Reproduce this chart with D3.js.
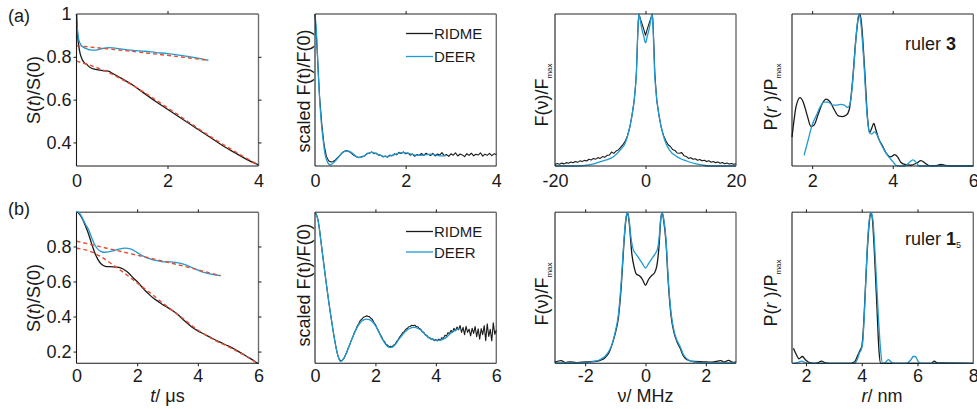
<!DOCTYPE html>
<html><head><meta charset="utf-8">
<script src="https://cdn.jsdelivr.net/npm/d3@7/dist/d3.min.js"></script>
<style>
body{margin:0;background:#fff;}
svg{display:block;}
text{font-family:"Liberation Sans",Arial,Helvetica,sans-serif;fill:#1a1a1a;}
</style></head>
<body><svg id="c" width="977" height="409"></svg>
<script>
// ---------- DATA ----------
// (a) ruler 3 — S(t)/S(0)
const a1RidmeT = [0,0.01,0.025,0.05,0.08,0.12,0.16,0.22,0.3,0.37,0.5,0.6,0.7,0.8,0.9,1.0,1.25,1.5,1.75,2.0,2.25,2.5,2.75,3.0,3.25,3.5,3.75,4.0];
const a1Ridme  = [1.0,0.96,0.9,0.85,0.815,0.79,0.775,0.765,0.75,0.744,0.738,0.735,0.733,0.722,0.71,0.698,0.666,0.628,0.59,0.555,0.52,0.485,0.45,0.415,0.38,0.35,0.32,0.295];
const a1RidmeFitT = [0,0.5,1,1.5,2,2.5,3,3.5,4];
const a1RidmeFit  = [0.78,0.745,0.695,0.632,0.562,0.49,0.42,0.355,0.295];
const a1DeerT = [0,0.02,0.05,0.1,0.15,0.22,0.3,0.4,0.5,0.6,0.7,0.8,1.0,1.25,1.5,1.75,2.0,2.25,2.5,2.75,2.9];
const a1Deer  = [1.0,0.93,0.88,0.855,0.845,0.838,0.832,0.831,0.835,0.84,0.843,0.842,0.836,0.83,0.826,0.82,0.815,0.808,0.8,0.79,0.784];
const a1DeerFitT = [0,1.45,2.9];
const a1DeerFit  = [0.852,0.82,0.784];

// (a) scaled F(t)/F(0); RIDME sampled every 0.05 µs from 0
const a2RidmeStep = 0.05;
const a2Ridme = [1.000,0.750,0.460,0.275,0.140,0.065,0.035,0.026,0.030,0.040,
 0.055,0.070,0.088,0.097,0.101,0.095,0.085,0.072,0.062,0.058,
 0.058,0.064,0.066,0.083,0.084,0.093,0.081,0.085,0.071,0.072,
 0.060,0.066,0.058,0.072,0.066,0.080,0.074,0.090,0.082,0.093,
 0.080,0.086,0.071,0.079,0.064,0.075,0.069,0.082,0.070,0.084,
 0.075,0.069,0.083,0.066,0.079,0.072,0.088,0.068,0.076,0.063,
 0.080,0.071,0.086,0.066,0.079,0.073,0.062,0.081,0.070,0.084,
 0.067,0.077,0.072,0.087,0.065,0.078,0.070,0.083,0.068,0.080,
 0.075];
const a2DeerT = [0,0.04,0.07,0.11,0.15,0.18,0.22,0.27,0.33,0.4,0.5,0.6,0.7,0.8,0.9,0.96,1.05,1.15,1.25,1.4,1.55,1.7,1.85,1.95,2.1,2.25,2.4,2.55,2.7,2.8,2.9];
const a2Deer  = [1.0,0.84,0.62,0.40,0.25,0.17,0.08,0.03,0.008,0.02,0.05,0.085,0.099,0.09,0.065,0.055,0.06,0.08,0.09,0.075,0.062,0.07,0.084,0.088,0.08,0.07,0.072,0.078,0.07,0.066,0.07];

// (a) F(nu)/Fmax
const a3RidmeTailL = [0.010,0.016,0.012,0.019,0.014,0.022,0.018,0.026,0.021,0.030,0.024,0.034,0.029,0.037,0.033,0.044,0.040,0.050,0.045,0.055,0.050,0.062,0.057,0.070,0.072,0.092,0.083,0.098,0.106,0.122,0.140,0.162,0.198,0.250]; // nu -20 .. -3.5, step 0.5
const a3RidmeCoreNu = [-3,-2.5,-2.2,-2,-1.8,-1.6,-1.45,-1.1,-0.7,-0.35,0,0.35,0.7,1.1,1.5,1.65,1.85,2.05,2.25,2.5,3,3.5];
const a3RidmeCore   = [0.33,0.43,0.53,0.62,0.8,0.95,1.0,0.965,0.93,0.895,0.86,0.895,0.93,0.965,1.0,0.95,0.8,0.62,0.53,0.43,0.33,0.25];
const a3RidmeTailR = [0.200,0.166,0.140,0.128,0.108,0.102,0.086,0.084,0.088,0.068,0.063,0.050,0.054,0.044,0.048,0.038,0.043,0.034,0.038,0.029,0.034,0.025,0.030,0.022,0.026,0.018,0.023,0.015,0.020,0.013,0.017,0.011,0.015]; // nu 4 .. 20, step 0.5
const a3DeerNu = [-20,-15,-13,-11,-9.5,-8.6,-7,-5.6,-4.5,-3.8,-3,-2.5,-2.2,-2,-1.8,-1.6,-1.44,-1.2,-0.8,-0.4,0,0.4,0.8,1.2,1.44,1.6,1.8,2,2.2,2.5,3,3.8,4.5,5.3,7,8.4,9.5,11,12.8,14,20];
const a3Deer   = [0,0,0.006,0.018,0.032,0.04,0.063,0.105,0.15,0.215,0.33,0.434,0.53,0.62,0.8,0.95,1.0,0.965,0.9,0.855,0.81,0.855,0.9,0.965,1.0,0.95,0.8,0.62,0.53,0.434,0.33,0.215,0.15,0.105,0.06,0.04,0.028,0.015,0.005,0,0];

// (a) P(r)/Pmax
const a4RidmeR = [1.5,1.55,1.6,1.7,1.78,1.88,1.97,2.05,2.15,2.25,2.35,2.45,2.55,2.65,2.75,2.85,2.92,3.0,3.08,3.15,3.18,3.22,3.3,3.38,3.43,3.48,3.53,3.58,3.65,3.75,3.85,3.95,4.05,4.12,4.2,4.3,4.45,4.6,4.7,4.8,4.9,5.05,5.2,5.3,5.5,6];
const a4Ridme  = [0.19,0.3,0.39,0.45,0.42,0.33,0.26,0.27,0.34,0.41,0.44,0.42,0.37,0.33,0.325,0.335,0.37,0.55,0.82,0.98,1.0,0.95,0.65,0.3,0.22,0.25,0.28,0.24,0.18,0.13,0.08,0.06,0.075,0.06,0.025,0.01,0.005,0.02,0.035,0.02,0.003,0.002,0.01,0.004,0,0];
const a4DeerR = [1.8,1.9,2.0,2.1,2.2,2.3,2.4,2.5,2.6,2.7,2.8,2.88,2.95,3.02,3.1,3.16,3.2,3.28,3.36,3.42,3.48,3.55,3.62,3.7,3.8,3.9,4.0,4.08,4.15,4.3,4.42,4.5,4.58,4.65,6];
const a4Deer  = [0.07,0.17,0.27,0.33,0.39,0.42,0.42,0.40,0.40,0.405,0.40,0.385,0.42,0.6,0.88,1.0,0.96,0.7,0.35,0.22,0.21,0.225,0.2,0.15,0.1,0.06,0.03,0.005,0,0,0.025,0.04,0.025,0,0];

// (b) ruler 1_5 — S(t)/S(0)
const b1RidmeT = [0,0.1,0.2,0.3,0.4,0.5,0.6,0.7,0.8,0.9,1.0,1.2,1.4,1.55,1.7,1.88,2.0,2.2,2.4,2.54,2.7,2.87,3.0,3.2,3.35,3.47,3.6,3.8,4.0,4.2,4.5,4.75,5.0,5.25,5.5,5.75,6.0];
const b1Ridme  = [1.0,0.985,0.955,0.915,0.87,0.815,0.765,0.728,0.703,0.69,0.685,0.684,0.68,0.67,0.652,0.619,0.6,0.56,0.525,0.504,0.485,0.465,0.452,0.43,0.41,0.39,0.37,0.34,0.318,0.3,0.273,0.252,0.232,0.21,0.185,0.158,0.13];
const b1RidmeFitT = [0,0.4,0.8,1.2,1.6,2.0,2.5,3.0,3.5,4.0,4.5,5.0,5.5,6.0];
const b1RidmeFit  = [0.79,0.775,0.742,0.695,0.645,0.592,0.525,0.455,0.39,0.323,0.27,0.228,0.182,0.13];
const b1DeerT = [0,0.1,0.2,0.3,0.4,0.5,0.6,0.7,0.8,0.9,1.0,1.2,1.4,1.6,1.8,2.0,2.2,2.4,2.6,2.8,3.0,3.2,3.4,3.6,3.8,4.0,4.2,4.4,4.6,4.75];
const b1Deer  = [1.0,0.99,0.96,0.925,0.895,0.85,0.81,0.785,0.772,0.767,0.768,0.775,0.785,0.79,0.785,0.765,0.745,0.73,0.72,0.714,0.712,0.71,0.705,0.695,0.68,0.665,0.652,0.643,0.637,0.633];
const b1DeerFitT = [0,1,2,3,4,4.75];
const b1DeerFit  = [0.83,0.79,0.75,0.71,0.667,0.633];

// (b) scaled F(t)/F(0); RIDME sampled every 0.05 µs from 0
const b2RidmeStep = 0.05;
const b2Ridme = [1.000,0.985,0.950,0.885,0.805,0.725,0.645,0.565,0.490,0.415,0.345,0.280,0.215,0.155,0.100,0.055,
 0.028,0.016,0.021,0.030,0.052,0.073,0.102,0.123,0.152,0.173,0.202,0.223,0.247,0.263,
 0.284,0.292,0.305,0.309,0.314,0.311,0.309,0.298,0.290,0.270,0.257,0.233,0.217,0.193,0.177,0.156,0.144,0.126,0.120,0.110,
 0.112,0.109,0.120,0.126,0.144,0.156,0.174,0.186,0.202,0.210,0.224,0.230,0.242,0.244,0.252,0.249,0.252,0.244,0.242,0.230,
 0.225,0.208,0.206,0.188,0.186,0.170,0.171,0.158,0.162,0.150,0.158,0.149,0.160,0.153,0.170,0.165,0.186,0.180,0.203,0.196,
 0.218,0.205,0.232,0.216,0.240,0.222,0.250,0.205,0.238,0.190,0.245,0.205,0.226,0.182,0.232,0.198,0.244,0.176,0.228,0.160,
 0.230,0.190,0.250,0.150,0.262,0.178,0.225,0.148,0.268,0.192,0.220];
const b2DeerT = [0,0.1,0.2,0.3,0.4,0.5,0.6,0.7,0.8,0.85,0.9,1.0,1.2,1.4,1.55,1.7,1.8,1.9,2.0,2.2,2.4,2.5,2.6,2.8,3.0,3.2,3.3,3.5,3.7,3.9,4.1,4.3,4.5,4.7,4.8];
const b2Deer  = [1.0,0.95,0.80,0.64,0.49,0.345,0.215,0.10,0.025,0.012,0.018,0.05,0.15,0.24,0.28,0.293,0.29,0.275,0.25,0.17,0.112,0.105,0.112,0.165,0.212,0.236,0.238,0.22,0.18,0.157,0.152,0.165,0.2,0.225,0.232];

// (b) F(nu)/Fmax
const b3RidmeNu = [-3,-2.8,-2.65,-2.5,-2.3,-2.1,-1.9,-1.7,-1.5,-1.35,-1.2,-1.1,-1.0,-0.9,-0.8,-0.72,-0.65,-0.6,-0.55,-0.45,-0.38,-0.3,-0.2,-0.1,0,0.1,0.2,0.3,0.38,0.45,0.5,0.55,0.6,0.68,0.75,0.85,0.95,1.05,1.15,1.25,1.4,1.6,1.9,2.2,2.5,2.6,2.75,2.9,3];
const b3Ridme   = [0.008,0.018,0.005,0.01,0.004,0.008,0.01,0.012,0.02,0.035,0.075,0.13,0.2,0.3,0.52,0.78,0.95,1.0,0.95,0.72,0.64,0.59,0.58,0.555,0.517,0.555,0.58,0.6,0.65,0.78,0.94,1.0,0.95,0.8,0.55,0.31,0.2,0.14,0.1,0.05,0.022,0.012,0.01,0.008,0.018,0.008,0.02,0.006,0.01];
const b3DeerNu = [-3,-2.5,-2,-1.7,-1.5,-1.35,-1.2,-1.1,-1.0,-0.9,-0.8,-0.72,-0.65,-0.6,-0.55,-0.48,-0.4,-0.3,-0.2,-0.1,0,0.1,0.2,0.3,0.4,0.46,0.5,0.55,0.6,0.68,0.75,0.85,0.95,1.05,1.15,1.25,1.4,1.6,2,3];
const b3Deer   = [0.003,0.003,0.005,0.012,0.025,0.045,0.085,0.13,0.21,0.32,0.55,0.8,0.96,1.0,0.96,0.83,0.75,0.72,0.69,0.66,0.63,0.66,0.69,0.72,0.76,0.85,0.95,1.0,0.96,0.82,0.57,0.33,0.21,0.15,0.11,0.06,0.025,0.01,0.004,0.003];

// (b) P(r)/Pmax
const b4RidmeR = [1.55,1.65,1.75,1.87,2.0,2.15,2.3,2.45,2.55,2.7,2.85,3.6,3.75,3.85,3.95,4.0,4.05,4.12,4.2,4.28,4.33,4.38,4.45,4.55,4.62,4.68,4.75,6.5,6.6,6.7,8];
const b4Ridme  = [0.1,0.06,0.03,0.045,0.02,0.003,0,0.005,0.015,0.003,0,0,0.01,0.05,0.09,0.11,0.2,0.45,0.75,0.95,1.0,0.96,0.75,0.35,0.08,0,0,0,0.015,0.002,0];
const b4DeerR = [1.55,1.7,1.85,2.0,2.1,3.75,3.85,3.92,3.98,4.03,4.1,4.18,4.27,4.33,4.4,4.5,4.6,4.68,4.75,4.85,4.95,5.05,5.15,5.6,5.75,5.85,5.92,6.0,6.1,8];
const b4Deer  = [0,0.005,0.015,0.003,0,0,0.03,0.07,0.09,0.13,0.35,0.7,0.95,1.0,0.95,0.65,0.3,0.08,0,0.005,0.025,0.01,0,0,0.02,0.045,0.045,0.02,0,0];

// tick values
const a1XTicks = [0,2,4],   a1YTicks = [0.4,0.6,0.8,1];
const a2XTicks = [0,2,4];
const a3XTicks = [-20,0,20];
const a4XTicks = [2,4,6];
const b1XTicks = [0,2,4,6], b1YTicks = [0.2,0.4,0.6,0.8];
const b2XTicks = [0,2,4,6];
const b3XTicks = [-2,0,2];
const b4XTicks = [2,4,6,8];

// ---------- DRAWING ----------
const svg = d3.select('#c');
const BLUE = '#1f9ad3', BLACK = '#1a1a1a', RED = '#ea4b2f', FRAME2 = '#6e6e6e';
const COLS = [[76.5,258.5],[315,496.3],[555,736],[792,973.3]];
const ROWS = [[14,166],[212.3,363.3]];
const TICKFS = 18;

function pairs(xs, ys){ return d3.zip(xs, ys); }

function panel(o){
  const [x0,x1] = COLS[o.c], [y0,y1] = ROWS[o.r];
  const x = d3.scaleLinear().domain(o.xd).range([x0,x1]);
  const y = d3.scaleLinear().domain(o.yd).range([y1,y0]);
  const g = svg.append('g');
  g.append('line').attr('x1',x0).attr('x2',x1).attr('y1',y0).attr('y2',y0).attr('stroke',FRAME2).attr('stroke-width',1.4);
  g.append('line').attr('x1',x1).attr('x2',x1).attr('y1',y0).attr('y2',y1).attr('stroke',FRAME2).attr('stroke-width',1.4);
  o.series.forEach(s=>{
    const line = d3.line().x(d=>x(d[0])).y(d=>y(d[1])).curve(s.curve || d3.curveMonotoneX);
    g.append('path').datum(s.data).attr('d',line).attr('fill','none')
      .attr('stroke',s.color).attr('stroke-width',s.w || 1.3)
      .attr('stroke-dasharray',s.dash || null).attr('stroke-linejoin','round');
  });
  g.append('line').attr('x1',x0).attr('x2',x0).attr('y1',y0).attr('y2',y1).attr('stroke',BLACK).attr('stroke-width',1.1);
  g.append('line').attr('x1',x0).attr('x2',x1).attr('y1',y1).attr('y2',y1).attr('stroke',BLACK).attr('stroke-width',1.1);
  const inner = o.xt.filter(v=>v>o.xd[0] && v<o.xd[1]);
  const bx = g.append('g').attr('transform',`translate(0,${y1})`)
    .call(d3.axisBottom(x).tickValues(o.xt).tickSize(3).tickPadding(o.r===0?5:3).tickFormat(d=>String(d)));
  bx.select('.domain').remove();
  bx.selectAll('.tick line').attr('stroke',BLACK).attr('opacity',(d)=>inner.includes(d)?1:0);
  bx.selectAll('text').attr('font-size',TICKFS).attr('font-family','"Liberation Sans",Arial,sans-serif').attr('fill',BLACK);
  const tx = g.append('g').attr('transform',`translate(0,${y0})`)
    .call(d3.axisTop(x).tickValues(inner).tickSize(3).tickFormat(''));
  tx.select('.domain').remove();
  tx.selectAll('.tick line').attr('stroke',BLACK);
  if (o.yt){
    const innerY = o.yt.filter(v=>v>o.yd[0] && v<o.yd[1]-1e-6);
    const ly = g.append('g').attr('transform',`translate(${x0},0)`)
      .call(d3.axisLeft(y).tickValues(o.yt).tickSize(3).tickPadding(2).tickFormat(d=>d===1?'1':d3.format('.1f')(d)));
    ly.select('.domain').remove();
    ly.selectAll('.tick line').attr('stroke',BLACK).attr('opacity',d=>innerY.includes(d)?1:0);
    ly.selectAll('text').attr('font-size',TICKFS).attr('font-family','"Liberation Sans",Arial,sans-serif').attr('fill',BLACK);
    const ry = g.append('g').attr('transform',`translate(${x1},0)`)
      .call(d3.axisRight(y).tickValues(innerY).tickSize(3).tickFormat(''));
    ry.select('.domain').remove();
    ry.selectAll('.tick line').attr('stroke',BLACK);
  }
  return {x,y};
}

const range = (n, step, start=0) => d3.range(n).map(i => +(start + i*step).toFixed(4));

// Row (a)
panel({c:0,r:0,xd:[0,4],yd:[0.29,1.0],xt:a1XTicks,yt:a1YTicks,series:[
  {data:pairs(a1RidmeT,a1Ridme),color:BLACK},
  {data:pairs(a1DeerT,a1Deer),color:BLUE},
  {data:pairs(a1RidmeFitT,a1RidmeFit),color:RED,dash:'4,3',w:1.4},
  {data:pairs(a1DeerFitT,a1DeerFit),color:RED,dash:'4,3',w:1.4}
]});
panel({c:1,r:0,xd:[0,4],yd:[0,1],xt:a2XTicks,series:[
  {data:pairs(range(a2Ridme.length,a2RidmeStep),a2Ridme),color:BLACK,curve:d3.curveLinear,w:1.1},
  {data:pairs(a2DeerT,a2Deer),color:BLUE}
]});
const a3RidmeNu = range(a3RidmeTailL.length,0.5,-20).concat(a3RidmeCoreNu, range(a3RidmeTailR.length,0.5,4));
const a3RidmeAll = a3RidmeTailL.concat(a3RidmeCore, a3RidmeTailR);
panel({c:2,r:0,xd:[-20,20],yd:[0,1],xt:a3XTicks,series:[
  {data:pairs(a3RidmeNu,a3RidmeAll),color:BLACK,curve:d3.curveLinear,w:1.1},
  {data:pairs(a3DeerNu,a3Deer),color:BLUE}
]});
panel({c:3,r:0,xd:[1.5,6],yd:[0,1],xt:a4XTicks,series:[
  {data:pairs(a4RidmeR,a4Ridme),color:BLACK},
  {data:pairs(a4DeerR,a4Deer),color:BLUE}
]});

// Row (b)
panel({c:0,r:1,xd:[0,6],yd:[0.133,0.995],xt:b1XTicks,yt:b1YTicks,series:[
  {data:pairs(b1RidmeT,b1Ridme),color:BLACK},
  {data:pairs(b1DeerT,b1Deer),color:BLUE},
  {data:pairs(b1RidmeFitT,b1RidmeFit),color:RED,dash:'4,3',w:1.4},
  {data:pairs(b1DeerFitT,b1DeerFit),color:RED,dash:'4,3',w:1.4}
]});
panel({c:1,r:1,xd:[0,6],yd:[0,1],xt:b2XTicks,series:[
  {data:pairs(range(b2Ridme.length,b2RidmeStep),b2Ridme),color:BLACK,curve:d3.curveLinear,w:1.1},
  {data:pairs(b2DeerT,b2Deer),color:BLUE}
]});
panel({c:2,r:1,xd:[-3,3],yd:[0,1],xt:b3XTicks,series:[
  {data:pairs(b3RidmeNu,b3Ridme),color:BLACK},
  {data:pairs(b3DeerNu,b3Deer),color:BLUE}
]});
panel({c:3,r:1,xd:[1.5,8],yd:[0,1],xt:b4XTicks,series:[
  {data:pairs(b4RidmeR,b4Ridme),color:BLACK},
  {data:pairs(b4DeerR,b4Deer),color:BLUE}
]});

// ---------- TEXT ----------
const LFS = 18;
function rotLabel(x, y, parts){
  const t = svg.append('text').attr('transform',`translate(${x},${y}) rotate(-90)`)
    .attr('text-anchor','middle').attr('font-size',LFS);
  parts.forEach(p=>{
    const s = t.append('tspan').text(p.t);
    if (p.i) s.attr('font-style','italic');
    if (p.sub) s.attr('font-size',8).attr('dy',4);
  });
}
[[90,0],[298,1]].forEach(([cy,r])=>{
  rotLabel(40, cy, [{t:'S('},{t:'t',i:1},{t:')/S(0)'}]);
  rotLabel(310, r?285:91, [{t:'scaled F(t)/F(0)'}]);
  rotLabel(548, r?294:95, [{t:'F(ν)/F'},{t:'max',sub:1}]);
  rotLabel(777, r?293:97, [{t:'P('},{t:'r',i:1},{t:' )/P'},{t:'max',sub:1}]);
});

function xLabel(x, parts){
  const t = svg.append('text').attr('x',x).attr('y',402).attr('text-anchor','middle').attr('font-size',LFS);
  parts.forEach(p=>{ const s=t.append('tspan').text(p.t); if(p.i) s.attr('font-style','italic'); });
}
xLabel(167.5, [{t:'t',i:1},{t:'/ μs'}]);
xLabel(645.5, [{t:'ν/ MHz'}]);
xLabel(882, [{t:'r',i:1},{t:'/ nm'}]);

svg.append('text').attr('x',8).attr('y',22).attr('font-size',LFS).text('(a)');
svg.append('text').attr('x',8).attr('y',215).attr('font-size',LFS).text('(b)');

const r3 = svg.append('text').attr('x',905).attr('y',50).attr('font-size',LFS);
r3.append('tspan').text('ruler ');
r3.append('tspan').attr('font-weight','bold').text('3');
const r1 = svg.append('text').attr('x',905).attr('y',245).attr('font-size',LFS);
r1.append('tspan').text('ruler ');
r1.append('tspan').attr('font-weight','bold').text('1');
r1.append('tspan').attr('font-size',9).attr('dy',3).text('5');

function legend(y1, y2){
  [[y1,BLACK,'RIDME'],[y2,BLUE,'DEER']].forEach(([yy,c,lab])=>{
    svg.append('line').attr('x1',406).attr('x2',433).attr('y1',yy).attr('y2',yy).attr('stroke',c).attr('stroke-width',1.3);
    svg.append('text').attr('x',434).attr('y',yy+5.5).attr('font-size',15).text(lab);
  });
}
legend(33.5, 56.5);
legend(231.5, 252);
</script></body></html>
